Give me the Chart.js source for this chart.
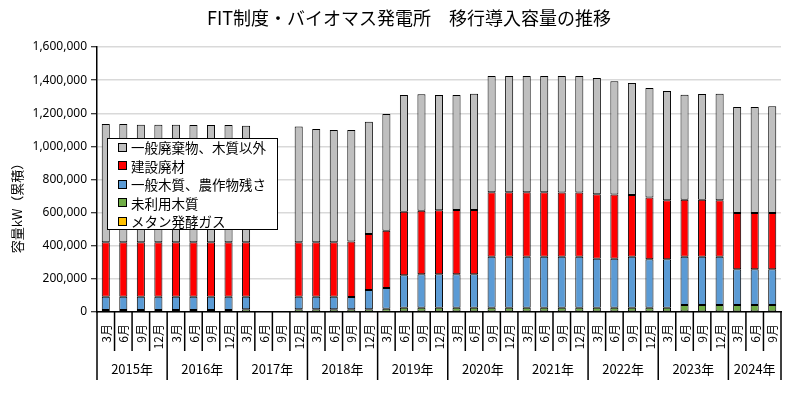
<!DOCTYPE html>
<html><head><meta charset="utf-8">
<script src="https://cdn.jsdelivr.net/npm/chart.js@4.4.1/dist/chart.umd.min.js"></script>
<style>html,body{margin:0;padding:0;background:#fff}</style>
</head><body>
<canvas id="c" width="800" height="394"></canvas>
<script>
const chartTitle = 'FIT制度・バイオマス発電所　移行導入容量の推移';
const yAxisTitle = '容量kW（累積）';
const years = ['2015年','2016年','2017年','2018年','2019年','2020年','2021年','2022年','2023年','2024年'];
const yearSizes = [4,4,4,4,4,4,4,4,4,3];
const months = [
 '3月','6月','9月','12月', '3月','6月','9月','12月', '3月','6月','9月','12月',
 '3月','6月','9月','12月', '3月','6月','9月','12月', '3月','6月','9月','12月',
 '3月','6月','9月','12月', '3月','6月','9月','12月', '3月','6月','9月','12月',
 '3月','6月','9月'];
const seriesNames = ['メタン発酵ガス','未利用木質','一般木質、農作物残さ','建設廃材','一般廃棄物、木質以外'];
const methane = [4000,4000,4000,4000, 4000,4000,4000,4000, 2000,null,null,2000,
 2000,2000,2000,2000, 2000,3000,3000,3000, 3000,3000,3000,3000,
 3000,3000,3000,3000, 3000,3000,3000,3000, 3000,3000,3000,3000, 3000,3000,3000];
const unusedWood = [8000,8000,8000,8000, 8000,8000,8000,8000, 14000,null,null,14000,
 14000,14000,14000,14000, 18000,22000,22000,22000, 22000,22000,22000,22000,
 22000,22000,22000,22000, 22000,22000,22000,22000, 22000,40000,40000,40000, 40000,40000,40000];
const generalWood = [80000,80000,80000,80000, 80000,80000,80000,80000, 76000,null,null,76000,
 76000,76000,75000,117000, 125000,197000,203000,203000, 203000,203000,309000,309000,
 309000,309000,309000,309000, 297000,297000,309000,293000, 293000,291000,291000,291000, 215000,215000,215000];
const constructionWaste = [329000,329000,329000,329000, 329000,329000,329000,329000, 329000,null,null,329000,
 329000,329000,334000,338000, 346000,384000,384000,386000, 388000,388000,389000,389000,
 389000,389000,388000,388000, 389000,387000,373000,374000, 356000,344000,344000,340000, 340000,340000,340000];
const generalWaste = [714000,714000,710000,710000, 710000,708000,708000,708000, 704000,null,null,699000,
 684000,678000,674000,678000, 705000,704000,702000,696000, 694000,702000,702000,702000,
 702000,702000,703000,703000, 702000,684000,676000,661000, 661000,634000,638000,644000, 640000,640000,644000];
const yTicksMax = 1600000;
const yTicksStep = 200000;

const colors = ['#ffc000','#70ad47','#5b9bd5','#ff0000','#bfbfbf'];
const seriesData = [methane, unusedWood, generalWood, constructionWaste, generalWaste];
const jp = '"Noto Sans CJK JP", "Noto Sans", sans-serif';

const decor = {
  id: 'decor',
  afterDraw(chart) {
    const ctx = chart.ctx;
    const xs = chart.scales.x, ca = chart.chartArea;
    ctx.save();
    // title
    ctx.fillStyle = '#000';
    ctx.font = '18px ' + jp;
    ctx.textAlign = 'center'; ctx.textBaseline = 'middle';
    ctx.fillText(chartTitle, 409, 18);
    // y title
    ctx.save();
    ctx.translate(17, 205); ctx.rotate(-Math.PI/2);
    ctx.font = '13px ' + jp;
    ctx.fillText(yAxisTitle, 0, 0);
    ctx.restore();
    // month labels
    ctx.font = '12px ' + jp;
    ctx.textAlign = 'right';
    months.forEach((m, i) => {
      const x = xs.getPixelForValue(i);
      ctx.save(); ctx.translate(x, 324); ctx.rotate(-Math.PI/2);
      ctx.fillText(m, 0, 0.5); ctx.restore();
    });
    // separators
    ctx.strokeStyle = '#000'; ctx.lineWidth = 1.5;
    const n = months.length;
    const bound = i => i === 0 ? ca.left : (i === n ? ca.right : (xs.getPixelForValue(i-1) + xs.getPixelForValue(i)) / 2);
    const yearStarts = new Set(); let acc = 0;
    yearSizes.forEach(s => { yearStarts.add(acc); acc += s; }); yearStarts.add(acc);
    for (let i = 0; i <= n; i++) {
      const x = bound(i);
      ctx.beginPath(); ctx.moveTo(x, ca.bottom); ctx.lineTo(x, yearStarts.has(i) ? 380 : 351); ctx.stroke();
    }
    // year labels
    ctx.font = '13px ' + jp; ctx.textAlign = 'center';
    acc = 0;
    years.forEach((y, k) => {
      const cx = (bound(acc) + bound(acc + yearSizes[k])) / 2;
      ctx.fillText(y, cx, 369);
      acc += yearSizes[k];
    });
    // legend
    const lx = 107.5, ly = 138.5, lw = 170, lh = 91;
    ctx.fillStyle = '#fff'; ctx.fillRect(lx, ly, lw, lh);
    ctx.strokeStyle = '#000'; ctx.lineWidth = 1; ctx.strokeRect(lx, ly, lw, lh);
    ctx.font = '13.5px ' + jp; ctx.textAlign = 'left'; ctx.textBaseline = 'middle';
    for (let k = 0; k < 5; k++) {
      const idx = 4 - k;
      const cy = 147.5 + k * 18.5;
      ctx.fillStyle = colors[idx];
      ctx.fillRect(118.5, Math.round(cy) - 4.5, 8, 8);
      ctx.strokeRect(118.5, Math.round(cy) - 4.5, 8, 8);
      ctx.fillStyle = '#000';
      ctx.fillText(seriesNames[idx], 131, cy + 0.5);
    }
    ctx.restore();
  }
};

new Chart(document.getElementById('c'), {
  type: 'bar',
  data: {
    labels: months,
    datasets: seriesData.map((d, k) => ({
      label: seriesNames[k], data: d, backgroundColor: colors[k],
      borderColor: '#000', borderWidth: 1, borderSkipped: false,
      categoryPercentage: 1, barPercentage: 0.46, stack: 's'
    }))
  },
  options: {
    responsive: false, devicePixelRatio: 1, animation: false,
    layout: { padding: { left: 0, right: 19, top: 47, bottom: 0 } },
    plugins: { legend: { display: false }, title: { display: false }, tooltip: { enabled: false } },
    scales: {
      x: {
        stacked: true,
        ticks: { display: false },
        grid: { display: false },
        border: { display: true, color: '#000', width: 1.5 },
        afterFit: s => { s.height = 82; }
      },
      y: {
        stacked: true, min: 0, max: yTicksMax,
        ticks: { stepSize: yTicksStep, color: '#000', padding: 4,
          font: { size: 12, family: '"Noto Sans", sans-serif' },
          callback: v => v.toLocaleString('en-US') },
        grid: { color: '#d9d9d9', lineWidth: 1.5, tickColor: '#000', tickLength: 6, tickWidth: 1 },
        border: { display: true, color: '#000', width: 1.5 },
        afterFit: s => { s.width = 97; }
      }
    }
  },
  plugins: [decor]
});
</script>
</body></html>
